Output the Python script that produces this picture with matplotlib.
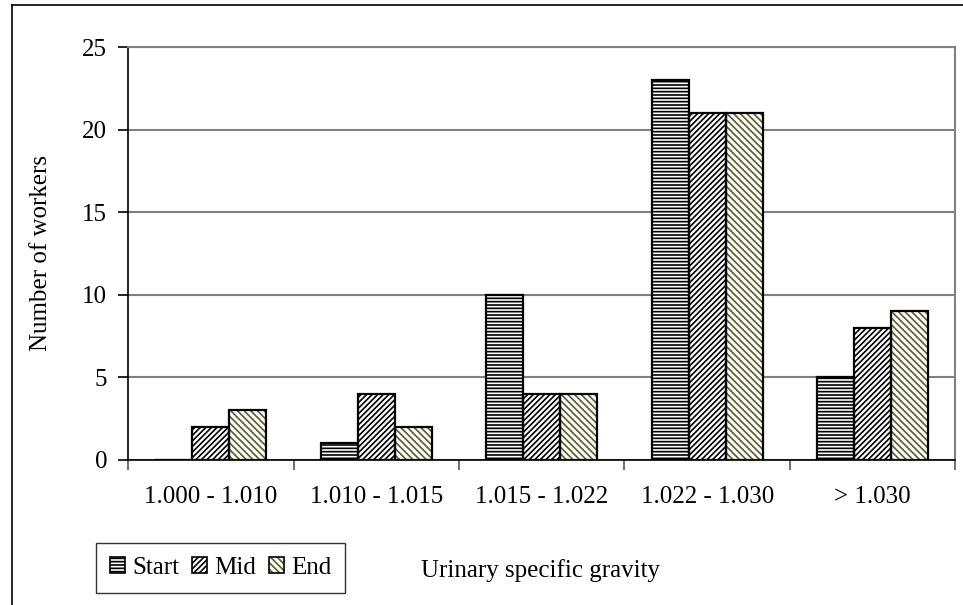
import numpy as np
import matplotlib
matplotlib.use("Agg")
import matplotlib.pyplot as plt
from matplotlib.patches import Patch
from matplotlib.lines import Line2D

categories = ["1.000 - 1.010", "1.010 - 1.015", "1.015 - 1.022", "1.022 - 1.030", "> 1.030"]
start = [0, 1, 10, 23, 5]
mid = [2, 4, 4, 21, 8]
end = [3, 2, 4, 21, 9]

plt.rcParams['font.family'] = ['Liberation Serif', 'DejaVu Serif']
plt.rcParams['hatch.linewidth'] = 1.2

fig = plt.figure(figsize=(9.63, 6.05), dpi=100)
ax = fig.add_axes([0.133, 0.2397, 0.859, 0.6826])

x = np.arange(len(categories))
w = 0.224
olive = "#5c5c28"
fs = 18

series = [
    ("Start", start, "-----", "black"),
    ("Mid", mid, "//////", "black"),
    ("End", end, "\\\\\\\\\\", olive),
]
handles = []
for i, (name, vals, hatch, hcol) in enumerate(series):
    pos = x + (i - 1) * w
    ax.bar(pos, vals, w, color="white", edgecolor=hcol, hatch=hatch, linewidth=0, zorder=2)
    ax.bar(pos, vals, w, fill=False, edgecolor="black", linewidth=1.6, zorder=3)
    handles.append((Patch(facecolor="white", edgecolor=hcol, hatch=hatch, linewidth=0),
                    Patch(fill=False, edgecolor="black", linewidth=1.2)))

ax.set_xlim(-0.5, 4.5)
ax.set_ylim(0, 25)
ax.set_yticks([0, 5, 10, 15, 20, 25])
ax.set_xticks(np.arange(-0.5, 5.0, 1.0))
ax.set_xticklabels([])
ax.set_xticks(x, minor=True)
ax.set_xticklabels(categories, minor=True)
ax.tick_params(axis="x", which="minor", length=0, pad=19, labelsize=fs)
ax.tick_params(axis="x", which="major", length=7, width=1.2, color="#555555", direction="out")
ax.tick_params(axis="y", length=7, width=1.2, direction="out", labelsize=fs, pad=8)
ax.yaxis.grid(True, color="#808080", linewidth=1.5, zorder=0)
ax.set_axisbelow(True)
for s in ["top", "right"]:
    ax.spines[s].set_color("#808080")
    ax.spines[s].set_linewidth(1.5)
for s in ["left", "bottom"]:
    ax.spines[s].set_color("black")
    ax.spines[s].set_linewidth(1.2)

ax.set_ylabel("Number of workers", fontsize=fs, labelpad=22)
fig.text(0.561, 0.057, "Urinary specific gravity", fontsize=fs, ha="center", va="center")

leg = fig.legend(handles, ["Start", "Mid", "End"], loc="lower left",
                 bbox_to_anchor=(0.1, 0.02), ncol=3, fontsize=fs, frameon=True,
                 fancybox=False, edgecolor="black", handlelength=0.6, handleheight=0.6,
                 handletextpad=0.3, columnspacing=0.5, borderpad=0.55, borderaxespad=0)
leg.get_frame().set_linewidth(1.0)

# figure border
fig.add_artist(Line2D([12 / 963, 12 / 963], [0, 1 - 5 / 605], transform=fig.transFigure, color="black", linewidth=1.2))
fig.add_artist(Line2D([12 / 963, 1], [1 - 5 / 605, 1 - 5 / 605], transform=fig.transFigure, color="black", linewidth=1.2))

fig.savefig("out.png", dpi=100)
